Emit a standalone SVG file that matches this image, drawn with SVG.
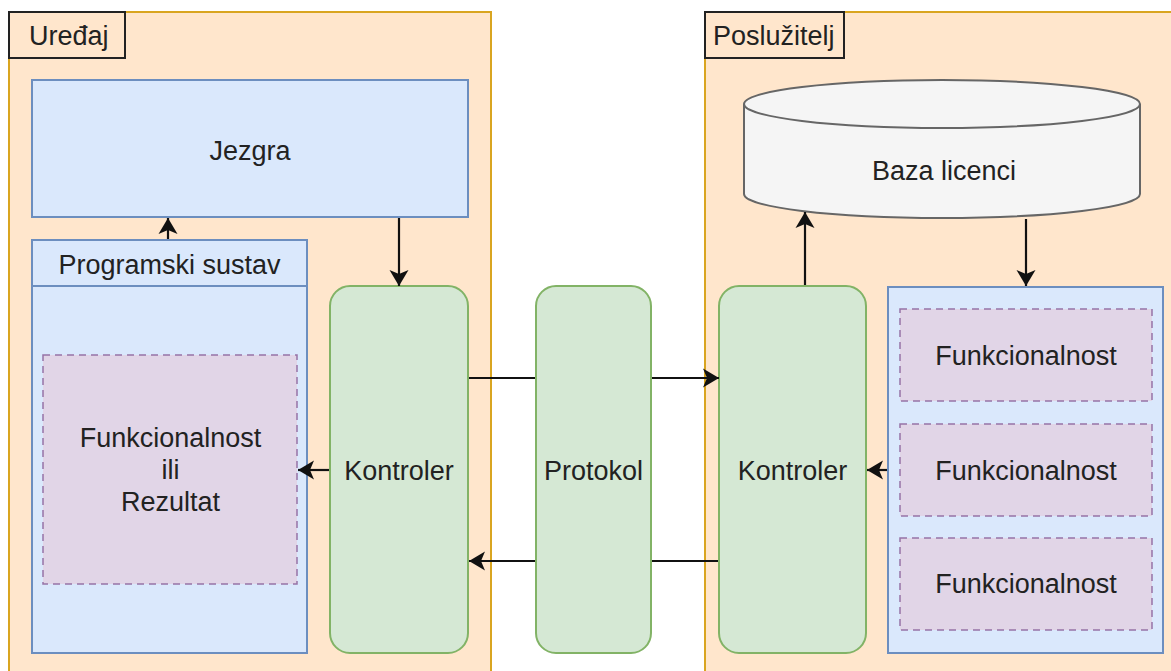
<svg xmlns="http://www.w3.org/2000/svg" width="1171" height="671" viewBox="0 0 1171 671">
<style>
text{font-family:"Liberation Sans",Arial,sans-serif;font-size:27px;fill:#222}
.c{text-anchor:middle}
.cont{fill:#ffe6cc;stroke:#d9a520;stroke-width:2}
.lbl{fill:none;stroke:#222;stroke-width:2}
.blue{fill:#dae8fc;stroke:#6c8ebf;stroke-width:2}
.green{fill:#d5e8d4;stroke:#82b366;stroke-width:2}
.purple{fill:#e1d5e7;stroke:#9673a6;stroke-width:1.5;stroke-dasharray:7 5}
.db{fill:#f5f5f5;stroke:#666;stroke-width:2}
.line{fill:none;stroke:#111;stroke-width:2.2}
.edge{fill:none;stroke:#111;stroke-width:2.2;marker-end:url(#arr)}
</style>
<defs>
<marker id="arr" markerUnits="userSpaceOnUse" markerWidth="20" markerHeight="22" refX="17" refY="10" orient="auto" viewBox="0 0 20 20">
<path d="M17,10 L1,0.5 L5,10 L1,19.5 Z" fill="#111"/>
</marker>
</defs>
<rect width="1171" height="671" fill="#fff"/>
<g id="uredaj">
<rect class="cont" x="9" y="12" width="482" height="680"/>
<rect class="lbl" x="9" y="12" width="116" height="46"/>
<text x="29" y="45">Uređaj</text>
</g>
<g id="posluzitelj">
<rect class="cont" x="705" y="12" width="480" height="680"/>
<rect class="lbl" x="705" y="12" width="139" height="46"/>
<text x="713" y="45">Poslužitelj</text>
</g>
<g id="jezgra">
<rect class="blue" x="32" y="80" width="436" height="137"/>
<text class="c" x="250" y="160">Jezgra</text>
</g>
<g id="programski-sustav">
<rect class="blue" x="32" y="240" width="275" height="413"/>
<line x1="32" y1="286" x2="307" y2="286" stroke="#6c8ebf" stroke-width="2"/>
<text class="c" x="169.5" y="274">Programski sustav</text>
</g>
<g id="funkcionalnost-rezultat">
<rect class="purple" x="43" y="355" width="254" height="229"/>
<text class="c" x="170.5" y="447">Funkcionalnost</text>
<text class="c" x="170.5" y="479">ili</text>
<text class="c" x="170.5" y="511">Rezultat</text>
</g>
<g id="kontroler-uredaj">
<rect class="green" x="330" y="286" width="138" height="367" rx="20"/>
<text class="c" x="399" y="480">Kontroler</text>
</g>
<g id="protokol">
<rect class="green" x="536" y="286" width="115" height="367" rx="20"/>
<text class="c" x="593.5" y="480">Protokol</text>
</g>
<g id="kontroler-posluzitelj">
<rect class="green" x="719" y="286" width="147" height="367" rx="20"/>
<text class="c" x="792.5" y="480">Kontroler</text>
</g>
<g id="baza-licenci">
<path class="db" d="M744,104 A198,24 0 0 1 1140,104 L1140,194 A198,24 0 0 1 744,194 Z"/>
<path class="db" d="M744,104 A198,24 0 0 0 1140,104" fill="none"/>
<text class="c" x="944" y="180">Baza licenci</text>
</g>
<g id="funkcionalnosti">
<rect class="blue" x="888" y="287" width="275" height="366"/>
<rect class="purple" x="900" y="309" width="252" height="92"/>
<text class="c" x="1026" y="365">Funkcionalnost</text>
<rect class="purple" x="900" y="424" width="252" height="92"/>
<text class="c" x="1026" y="480">Funkcionalnost</text>
<rect class="purple" x="900" y="538" width="252" height="92"/>
<text class="c" x="1026" y="593">Funkcionalnost</text>
</g>
<g id="connectors">
<path class="edge" d="M168,239 L168,218"/>
<path class="edge" d="M399,218 L399,286"/>
<path class="edge" d="M329,470 L298,470"/>
<path class="line" d="M469,378 L535,378"/>
<path class="edge" d="M652,378 L719,378"/>
<path class="line" d="M718,561 L652,561"/>
<path class="edge" d="M535,561 L469,561"/>
<path class="edge" d="M887,470 L867,470"/>
<path class="edge" d="M805,285 L805,212"/>
<path class="edge" d="M1026,219 L1026,286"/>
</g>
</svg>
